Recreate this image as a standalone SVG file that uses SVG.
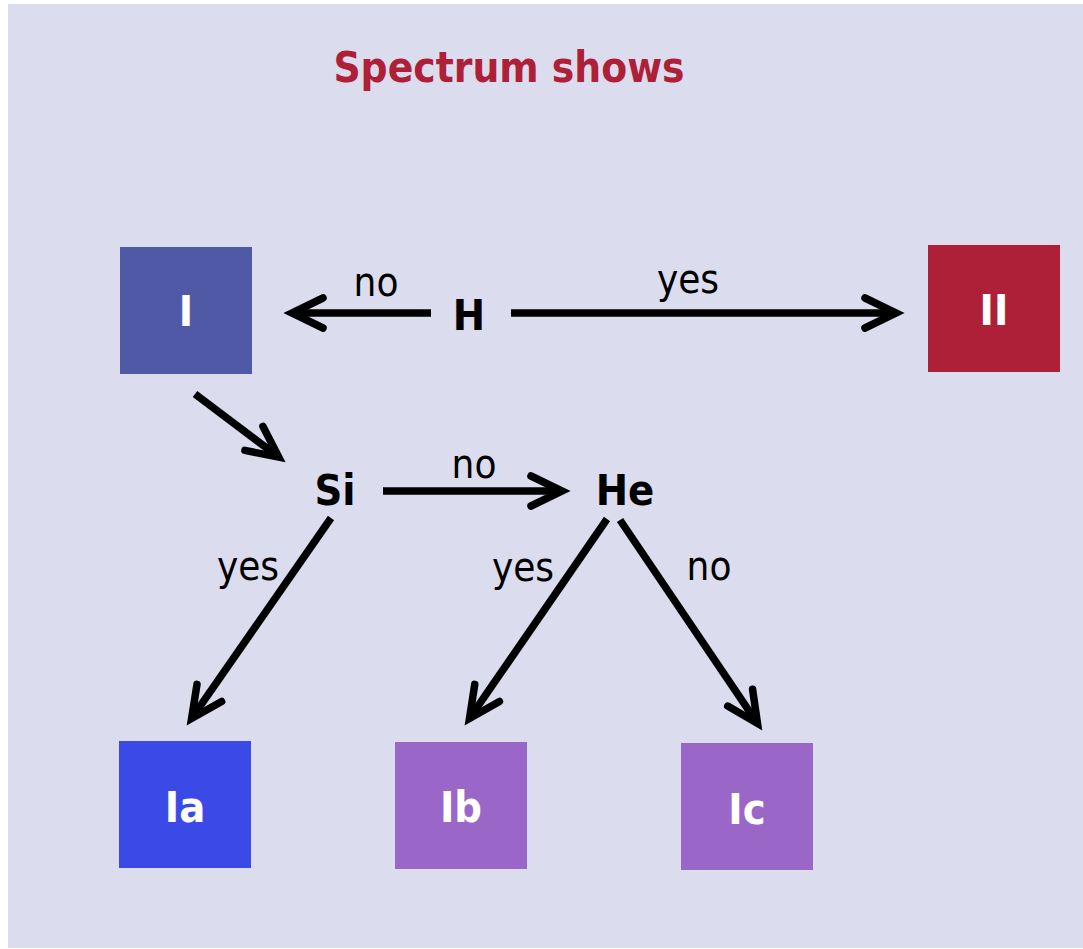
<svg xmlns="http://www.w3.org/2000/svg" width="1083" height="949" viewBox="0 0 1083 949">
<style>
.bg{fill:#dbdcee}
.t{font-family:"DejaVu Sans Condensed","DejaVu Sans",sans-serif;font-stretch:condensed}
.title{font-size:42px;font-weight:bold;fill:#ae2037}
.lbl{font-size:43px;font-weight:bold;fill:#000}
.edge{font-size:40px;fill:#000}
.box{font-size:43px;font-weight:bold;fill:#fff}
.ln{stroke:#000;stroke-width:7.5;fill:none;stroke-linecap:butt}
</style>
<defs>
<marker id="ah" markerUnits="userSpaceOnUse" markerWidth="60" markerHeight="60" refX="0" refY="0" viewBox="-40 -30 60 60" orient="auto" overflow="visible">
<path d="M-31,-15 L0,0 L-31,15" fill="none" stroke="#000" stroke-width="7.5" stroke-linecap="round" stroke-linejoin="miter"/>
</marker>
</defs>
<rect class="bg" x="8" y="4" width="1075" height="944"/>
<text class="t title" x="509" y="82" text-anchor="middle">Spectrum shows</text>

<g id="node-I"><rect x="120" y="247" width="132" height="127" fill="#4f59a6"/><text class="t box" x="186" y="326" text-anchor="middle">I</text></g>
<g id="node-II"><rect x="928" y="245" width="132" height="127" fill="#ae2037"/><text class="t box" x="994" y="325" text-anchor="middle">II</text></g>
<g id="node-Ia"><rect x="119" y="741" width="132" height="127" fill="#3b4ae6"/><text class="t box" x="185" y="822" text-anchor="middle">Ia</text></g>
<g id="node-Ib"><rect x="395" y="742" width="132" height="127" fill="#9a67c9"/><text class="t box" x="461" y="822" text-anchor="middle">Ib</text></g>
<g id="node-Ic"><rect x="681" y="743" width="132" height="127" fill="#9a67c9"/><text class="t box" x="747" y="824" text-anchor="middle">Ic</text></g>
<g id="node-H"><text class="t lbl" x="469" y="330" text-anchor="middle">H</text></g>
<g id="node-Si"><text class="t lbl" x="335" y="505" text-anchor="middle">Si</text></g>
<g id="node-He"><text class="t lbl" x="625" y="505" text-anchor="middle">He</text></g>

<g id="connectors">
<line class="ln" x1="431" y1="313" x2="292" y2="313" marker-end="url(#ah)"/>
<line class="ln" x1="511" y1="313" x2="896" y2="313" marker-end="url(#ah)"/>
<line class="ln" x1="195" y1="394" x2="278.7" y2="457.1" marker-end="url(#ah)"/>
<line class="ln" x1="383" y1="491" x2="562" y2="491" marker-end="url(#ah)"/>
<line class="ln" x1="331" y1="518" x2="191.6" y2="718.4" marker-end="url(#ah)"/>
<line class="ln" x1="607" y1="519" x2="469.5" y2="718.4" marker-end="url(#ah)"/>
<line class="ln" x1="620" y1="520" x2="757.5" y2="723.4" marker-end="url(#ah)"/>
<text class="t edge" x="376" y="296" text-anchor="middle">no</text>
<text class="t edge" x="688" y="293" text-anchor="middle">yes</text>
<text class="t edge" x="474" y="478" text-anchor="middle">no</text>
<text class="t edge" x="248" y="580" text-anchor="middle">yes</text>
<text class="t edge" x="523" y="581" text-anchor="middle">yes</text>
<text class="t edge" x="709" y="580" text-anchor="middle">no</text>
</g>
</svg>
